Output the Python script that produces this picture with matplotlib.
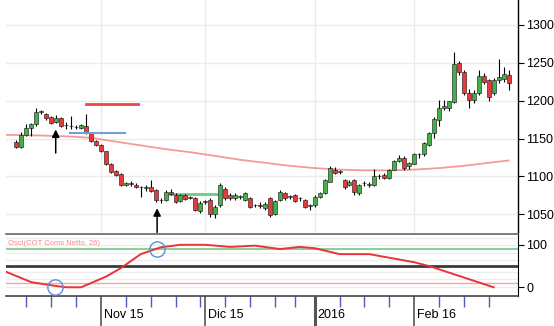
import numpy as np
import pandas as pd
import matplotlib
matplotlib.use("Agg")
import matplotlib.pyplot as plt

plt.rcParams['font.family'] = ['Liberation Sans Narrow', 'Liberation Sans', 'DejaVu Sans']

# daily candles, Oct 8 2015 - Feb 26 2016 (holidays Dec 25 / Jan 1 skipped)
dates = pd.bdate_range("2015-10-08", "2016-02-26")
dates = dates[~dates.isin(pd.to_datetime(["2015-12-25", "2016-01-01"]))]

opens = [1146, 1139, 1155, 1164, 1169, 1185, 1182, 1178, 1172, 1177,
         1168, 1167, 1165, 1164, 1166, 1157, 1147, 1141, 1133, 1117,
         1107, 1103, 1089, 1091, 1089, 1086, 1085, 1086, 1082, 1069,
         1069, 1080, 1076, 1067, 1075, 1072, 1071, 1054, 1066, 1069,
         1051, 1062, 1084, 1075, 1071, 1073, 1069, 1071, 1062, 1062,
         1058, 1071, 1051, 1069, 1078, 1073, 1075, 1071, 1069, 1061,
         1062, 1073, 1078, 1093, 1109, 1106, 1095, 1089, 1095, 1078,
         1091, 1089, 1089, 1100, 1102, 1098, 1109, 1120, 1125, 1114,
         1117, 1129, 1129, 1141, 1157, 1175, 1190, 1190, 1198, 1250,
         1238, 1210, 1201, 1210, 1232, 1227, 1210, 1227, 1229, 1234]
highs = [1148, 1159, 1169, 1170, 1191, 1188, 1184, 1180, 1181, 1179,
         1172, 1180, 1168, 1169, 1183, 1158, 1148, 1143, 1134, 1118,
         1108, 1105, 1093, 1094, 1091, 1088, 1089, 1095, 1083, 1072,
         1082, 1084, 1078, 1077, 1077, 1074, 1073, 1067, 1069, 1071,
         1062, 1091, 1086, 1078, 1078, 1076, 1080, 1073, 1064, 1066,
         1066, 1073, 1069, 1082, 1080, 1076, 1077, 1073, 1070, 1063,
         1075, 1080, 1097, 1114, 1112, 1109, 1097, 1095, 1097, 1090,
         1094, 1092, 1110, 1103, 1104, 1110, 1122, 1128, 1127, 1119,
         1131, 1131, 1146, 1159, 1178, 1201, 1201, 1200, 1264, 1252,
         1240, 1216, 1214, 1240, 1236, 1229, 1230, 1255, 1245, 1240]
lows = [1137, 1138, 1154, 1153, 1167, 1183, 1175, 1169, 1170, 1165,
        1163, 1163, 1163, 1162, 1156, 1146, 1140, 1132, 1115, 1104,
        1100, 1087, 1087, 1088, 1085, 1073, 1081, 1079, 1066, 1065,
        1068, 1076, 1065, 1066, 1069, 1070, 1054, 1052, 1063, 1047,
        1045, 1060, 1069, 1069, 1069, 1070, 1068, 1058, 1059, 1058,
        1056, 1047, 1049, 1067, 1069, 1070, 1066, 1068, 1058, 1056,
        1060, 1071, 1077, 1092, 1103, 1103, 1084, 1087, 1075, 1076,
        1088, 1086, 1088, 1096, 1096, 1097, 1108, 1119, 1109, 1110,
        1116, 1125, 1127, 1140, 1151, 1167, 1188, 1186, 1197, 1234,
        1208, 1190, 1197, 1208, 1222, 1200, 1208, 1224, 1225, 1214]
closes = [1139, 1155, 1164, 1169, 1185, 1185.5, 1177, 1171, 1177, 1167,
          1167.5, 1166, 1165.5, 1168, 1158, 1147, 1141, 1134, 1117, 1106,
          1102, 1089, 1091, 1090.5, 1086, 1085.5, 1085.5, 1081, 1069, 1068.5,
          1080, 1077, 1066, 1075, 1070, 1072.5, 1056, 1065, 1067, 1051,
          1060, 1089, 1071, 1071, 1075, 1073.5, 1078, 1060, 1062.5, 1061,
          1063, 1049, 1067, 1080, 1071, 1073.5, 1068, 1071.5, 1060, 1061.5,
          1073, 1078, 1095, 1111, 1105, 1106.5, 1086, 1093, 1080, 1089,
          1091.5, 1089.5, 1100, 1101, 1098, 1109, 1120, 1125, 1111, 1118,
          1129, 1129.5, 1144, 1157, 1176, 1191, 1193, 1199, 1249, 1238,
          1210, 1201, 1210, 1232, 1225, 1205, 1227, 1231, 1235, 1224]

# long moving average, read at sample candles
ma_idx = [-2, 5, 10, 15, 20, 25, 30, 35, 40, 45, 50, 55, 60, 65, 70, 75, 80, 85, 90, 95, 99]
ma_val = [1155, 1154, 1153, 1151, 1146, 1141, 1136, 1132, 1127, 1122, 1118,
          1114, 1111, 1109, 1108, 1108, 1109, 1111, 1114, 1118, 1121]

# oscillator COT (weekly points)
osc_idx = [-2.2, 3, 8, 10, 13, 18, 21, 25, 29, 33, 38, 43, 48, 53, 57, 60, 65, 71, 80, 83, 96]
osc_val = [37, 12, 3, 0, 0, 25, 45, 78, 94, 100, 100, 95, 98, 90, 95, 92, 78, 78, 59, 50, 0]

month_labels = ["Nov 15", "Dic 15", "2016", "Feb 16"]

x = np.arange(len(dates))
o = np.array(opens, float)
c = np.array(closes, float)
h = np.array(highs, float)
l = np.array(lows, float)

fig = plt.figure(figsize=(5.54, 3.26), dpi=100)
ax = fig.add_axes([6/554, 1-233/326, 512/554, 233/326])
ax2 = fig.add_axes([6/554, 1-296/326, 512/554, 62/326])

xl = (-2.1, 100.9)

# month starts and mondays
d = pd.Series(dates)
month_pos = [i for i in range(1, len(d)) if d[i].month != d[i-1].month]
minor_pos = [i for i in range(len(d)) if d[i].weekday() == 0 and i not in month_pos]

# --- price panel ---
for yv in [1050, 1100, 1150, 1200, 1250, 1300]:
    ax.axhline(yv, color='#ebebeb', lw=1, zorder=0)
for mp in month_pos:
    ax.axvline(mp, color='#ebebeb', lw=1, zorder=0)

ax.plot(ma_idx, ma_val, color='#f49a9a', lw=1.3, zorder=1)

ax.vlines(x, l, h, color='black', lw=0.8, zorder=2)
up = c >= o
body_b = np.minimum(o, c)
body_h = np.maximum(np.abs(c - o), 0.9)
ax.bar(x, body_h, bottom=body_b, width=0.8,
       color=np.where(up, '#43b049', '#e63b3b'), edgecolor='#111111', linewidth=0.4, zorder=3)

ax.plot([14, 24.4], [1195, 1195], color='#f04545', lw=2, zorder=4)
ax.plot([10.8, 21.8], [1157, 1157], color='#6f9fdc', lw=1.5, zorder=4)
ax.plot([30.9, 40.5], [1077, 1077], color='#6cc98c', lw=2, zorder=1.5)

for ax_, hy, ty in [(7.9, 1162, 1131), (28.3, 1058, 1026)]:
    ax.annotate('', xy=(ax_, hy), xytext=(ax_, ty),
                arrowprops=dict(arrowstyle='-|>', color='black', lw=1.1,
                                mutation_scale=11, shrinkA=0, shrinkB=0))

ax.set_xlim(*xl)
ax.set_ylim(1025.3, 1333)
ax.yaxis.tick_right()
ax.set_yticks([1050, 1100, 1150, 1200, 1250, 1300])
ax.tick_params(axis='y', length=4, width=0.8, labelsize=9, pad=2)
ax.set_xticks([])
for s in ['top', 'left', 'bottom']:
    ax.spines[s].set_visible(False)
ax.spines['right'].set_linewidth(1)

# --- oscillator panel ---
for yv in [0, 20, 35, 65, 80, 100, 115]:
    ax2.axhline(yv, color='#ececec', lw=0.8, zorder=0)
ax2.axhline(90, color='#8fd09a', lw=1.5, zorder=1)
ax2.axhline(50, color='#3a3a3a', lw=2, zorder=1)
ax2.axhline(10, color='#f6a5a5', lw=1, zorder=1)
ax2.plot(osc_idx, osc_val, color='#e8333a', lw=1.4, zorder=3)
ax2.plot([7.7, 28.3], [1, 90], 'o', ms=11, mfc='none', mec='#5b8fd6', mew=1, zorder=4)
ax2.text(0.004, 0.84, "Osci(COT Coms Netto, 26)", transform=ax2.transAxes,
         color='#f08a8a', fontsize=5.5, va='center', ha='left')

ax2.set_xlim(*xl)
ax2.set_ylim(-20.5, 125.4)
ax2.yaxis.tick_right()
ax2.set_yticks([0, 100])
ax2.tick_params(axis='y', length=4, width=0.8, labelsize=9, pad=2)
ax2.spines['left'].set_visible(False)
ax2.spines['top'].set_color('#666666')
ax2.spines['bottom'].set_color('#444444')
ax2.spines['top'].set_linewidth(1.2)
ax2.spines['bottom'].set_linewidth(1.2)

ax2.set_xticks(month_pos)
ax2.set_xticklabels([])
ax2.set_xticks(minor_pos, minor=True)
ax2.tick_params(axis='x', which='major', length=25, width=1.2, color='#555555')
ax2.tick_params(axis='x', which='minor', length=8, width=1, color='#4a5cc8')
ax2.xaxis.get_major_ticks()[2].tick1line.set_color('black')
ax2.xaxis.get_major_ticks()[2].tick1line.set_markeredgewidth(2.2)
for mp, lab in zip(month_pos, month_labels):
    ax2.annotate(lab, xy=(mp, 0), xycoords=('data', 'axes fraction'),
                 xytext=(3, -19), textcoords='offset pixels',
                 ha='left', va='center', fontsize=9)

fig.savefig("out.png", dpi=100)
